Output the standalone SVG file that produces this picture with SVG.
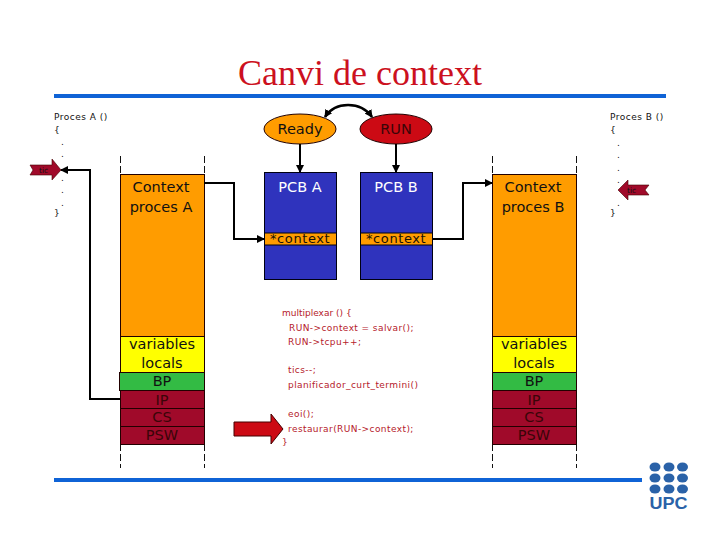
<svg xmlns="http://www.w3.org/2000/svg" width="720" height="540" viewBox="0 0 720 540">
<style>
text{font-family:"DejaVu Sans","Liberation Sans",sans-serif;fill:#111}
.t{font-size:14.5px;text-anchor:middle}
.dk{fill:#3a0508}
.c{font-size:9px;letter-spacing:.5px}
.r{font-size:9px;fill:#b5202a;letter-spacing:.42px}
.x{font-size:13px;letter-spacing:.6px;fill:#1a1208}
.s{stroke:#200;stroke-width:1}
.d{stroke:#111;stroke-width:1;stroke-dasharray:7 3;fill:none}
.l{stroke:#000;stroke-width:2;fill:none}
</style>
<defs>
<marker id="a" viewBox="0 0 8 8" refX="7" refY="4" markerWidth="8" markerHeight="8" markerUnits="userSpaceOnUse" orient="auto-start-reverse"><path d="M0 0L8 4L0 8Z" fill="#000"/></marker>
</defs>
<rect x="54" y="94" width="612" height="4" fill="#0f63d6"/>
<rect x="54" y="478" width="588" height="4" fill="#0f63d6"/>
<text x="360" y="85" text-anchor="middle" style="font-family:'Liberation Serif',serif;font-size:36px;fill:#cc1020">Canvi de context</text>
<g id="procesA">
<text class="c" x="54" y="120">Proces A ()</text><text class="c" x="54" y="133">{</text>
<text class="c" x="61" y="145">.</text><text class="c" x="61" y="157">.</text><text class="c" x="61" y="181">.</text><text class="c" x="61" y="193">.</text><text class="c" x="61" y="206">.</text>
<text class="c" x="54" y="216">}</text>
</g>
<g id="procesB">
<text class="c" x="610" y="120">Proces B ()</text><text class="c" x="610" y="133">{</text>
<text class="c" x="617" y="146">.</text><text class="c" x="617" y="158">.</text><text class="c" x="617" y="171">.</text><text class="c" x="617" y="183">.</text><text class="c" x="617" y="206">.</text>
<text class="c" x="610" y="216">}</text>
</g>
<g id="stackA">
<path class="d" d="M120.500 156V174M204.500 156V174M120.500 444V468M204.500 444V468"/>
<rect class="s" x="120.500" y="174.500" width="84" height="162" fill="#ff9c00"/>
<rect class="s" x="120.500" y="336.500" width="84" height="36" fill="#ffff00"/>
<rect class="s" x="119.500" y="372.500" width="85" height="18" fill="#33bb44"/>
<rect class="s" x="120.500" y="390.500" width="84" height="18" fill="#a00a2a"/>
<rect class="s" x="120.500" y="408.500" width="84" height="18" fill="#a00a2a"/>
<rect class="s" x="120.500" y="426.500" width="84" height="18" fill="#a00a2a"/>
<text class="t" x="161" y="192">Context</text><text class="t" x="161" y="212">proces A</text>
<text class="t" x="162" y="349">variables</text><text class="t" x="162" y="368">locals</text>
<text class="t" x="162" y="386">BP</text><text class="t dk" x="162" y="405">IP</text><text class="t dk" x="162" y="422">CS</text><text class="t dk" x="162" y="440">PSW</text>
</g>
<g id="stackB">
<path class="d" d="M492.500 156V174M576.500 156V174M492.500 444V468M576.500 444V468"/>
<rect class="s" x="492.500" y="174.500" width="84" height="162" fill="#ff9c00"/>
<rect class="s" x="492.500" y="336.500" width="84" height="36" fill="#ffff00"/>
<rect class="s" x="492.500" y="372.500" width="84" height="18" fill="#33bb44"/>
<rect class="s" x="492.500" y="390.500" width="84" height="18" fill="#a00a2a"/>
<rect class="s" x="492.500" y="408.500" width="84" height="18" fill="#a00a2a"/>
<rect class="s" x="492.500" y="426.500" width="84" height="18" fill="#a00a2a"/>
<text class="t" x="533" y="192">Context</text><text class="t" x="533" y="212">proces B</text>
<text class="t" x="534" y="349">variables</text><text class="t" x="534" y="368">locals</text>
<text class="t" x="534" y="386">BP</text><text class="t dk" x="534" y="405">IP</text><text class="t dk" x="534" y="422">CS</text><text class="t dk" x="534" y="440">PSW</text>
</g>
<g id="pcbA">
<rect x="264.500" y="172.500" width="72" height="107" fill="#2f33bd" stroke="#001"/>
<rect x="264.500" y="233" width="72" height="12" fill="#ff9c00" stroke="#001"/>
<text class="t" x="300" y="192" style="fill:#fff">PCB A</text>
<text class="x" x="270" y="243">*context</text>
</g>
<g id="pcbB">
<rect x="360.500" y="172.500" width="72" height="107" fill="#2f33bd" stroke="#001"/>
<rect x="360.500" y="233" width="72" height="12" fill="#ff9c00" stroke="#001"/>
<text class="t" x="396" y="192" style="fill:#fff">PCB B</text>
<text class="x" x="366" y="243">*context</text>
</g>
<g id="ready"><ellipse cx="300" cy="129" rx="36" ry="15" fill="#ff9c00" stroke="#200"/><text class="t" x="300" y="134">Ready</text></g>
<g id="run"><ellipse cx="396" cy="129" rx="36" ry="15" fill="#cc0a14" stroke="#200"/><text class="t dk" x="396" y="134">RUN</text></g>
<g id="connectors">
<path d="M325 117C335 101 361 101 372 117" stroke="#000" stroke-width="2.500" fill="none" marker-start="url(#a)" marker-end="url(#a)"/>
<path class="l" d="M300 144V172" marker-end="url(#a)"/>
<path class="l" d="M396 144V172" marker-end="url(#a)"/>
<path class="l" d="M204 183H234V239H264" marker-end="url(#a)"/>
<path class="l" d="M433 239H463V183H492" marker-end="url(#a)"/>
<path class="l" d="M120 399H90V170H61" marker-end="url(#a)"/>
</g>
<g id="codi">
<text class="r" x="282" y="316" style="letter-spacing:0">multiplexar () {</text>
<text class="r" x="289" y="331">RUN-&gt;context = salvar();</text>
<text class="r" x="288" y="345">RUN-&gt;tcpu++;</text>
<text class="r" x="288" y="373">tics--;</text>
<text class="r" x="288" y="388">planificador_curt_termini()</text>
<text class="r" x="288" y="417">eoi();</text>
<text class="r" x="288" y="432">restaurar(RUN-&gt;context);</text>
<text class="r" x="282" y="445">}</text>
</g>
<g id="fletxa"><path d="M234 422H271V414L283 429L271 444V436H234Z" fill="#cc0a14" stroke="#400"/></g>
<g id="ticA"><path d="M30 165H52V159L61 170L52 180V175H30L33 170Z" fill="#a00a2a" stroke="#400" stroke-width=".6"/><text x="39" y="173" style="font-size:7.500px">tic</text></g>
<g id="ticB"><path d="M649 185H628V180L618 190L628 200V195H649L645 190Z" fill="#a00a2a" stroke="#400" stroke-width=".6"/><text x="627" y="193" style="font-size:7.500px">tic</text></g>
<g id="upc" fill="#2a62a8">
<ellipse cx="655" cy="467" rx="5.500" ry="4.500"/><ellipse cx="669" cy="467" rx="5.500" ry="4.500"/><ellipse cx="682.500" cy="467" rx="5.500" ry="4.500"/>
<ellipse cx="655" cy="478" rx="5.500" ry="4.500"/><ellipse cx="669" cy="478" rx="5.500" ry="4.500"/><ellipse cx="682.500" cy="478" rx="5.500" ry="4.500"/>
<ellipse cx="655" cy="489" rx="5.500" ry="4.500"/><ellipse cx="669" cy="489" rx="5.500" ry="4.500"/><ellipse cx="682.500" cy="489" rx="5.500" ry="4.500"/>
<text x="668.500" y="509" text-anchor="middle" textLength="38" lengthAdjust="spacingAndGlyphs" style="font-family:'Liberation Sans',sans-serif;font-weight:700;font-size:17px;fill:#2a62a8">UPC</text>
</g>
</svg>
